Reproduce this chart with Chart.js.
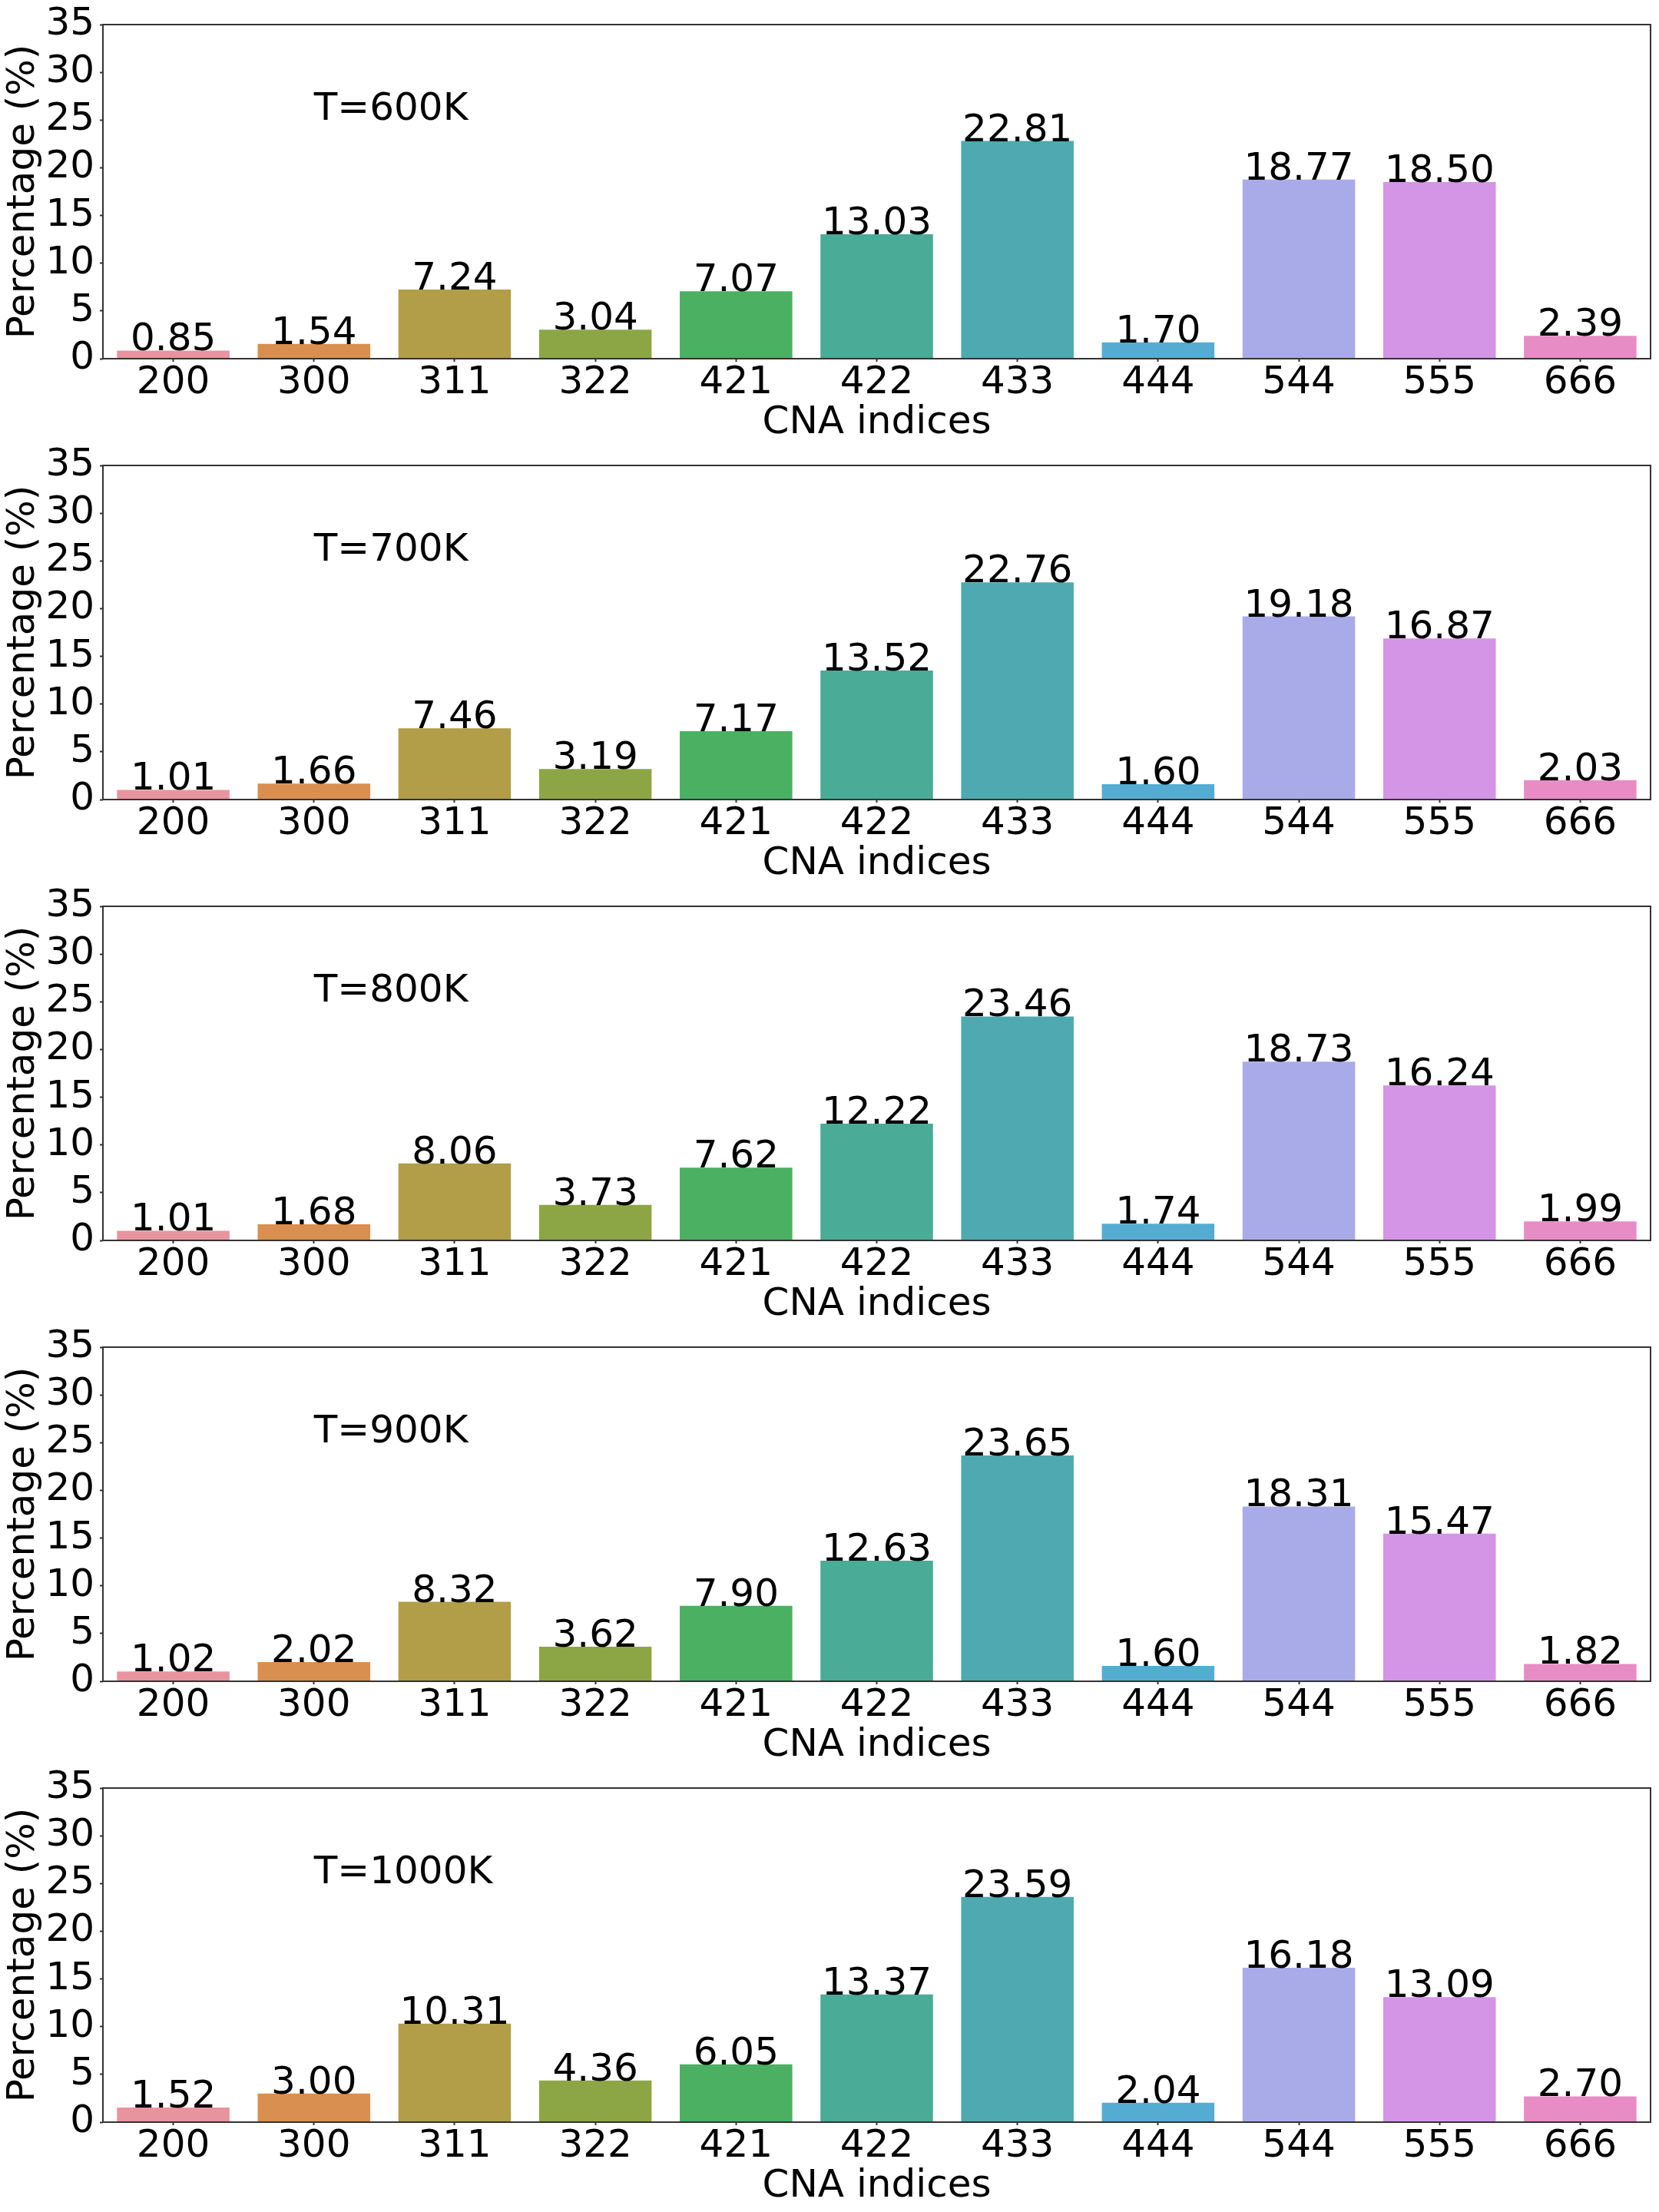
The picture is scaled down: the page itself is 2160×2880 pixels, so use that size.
<!DOCTYPE html>
<html>
<head>
<meta charset="utf-8">
<script src="https://cdn.jsdelivr.net/npm/chart.js@4.4.0/dist/chart.umd.min.js"></script>
<style>
  body { margin: 0; background: #fff; }
  #wrap { position: relative; width: 2160px; height: 2880px; }
  canvas { position: absolute; left: 0; }
</style>
</head>
<body>
<div id="wrap"></div>
<script>
// indices CNA (axe des x)
const categories = ['200', '300', '311', '322', '421', '422', '433', '444', '544', '555', '666'];

// une couleur par indice
const barColors = ['#e8949e', '#d98f4f', '#b29d48', '#8da645', '#4bb062', '#4aab97',
                   '#4eaab0', '#55acd2', '#a9abe9', '#d495e6', '#e88cc5'];

// pourcentages par température
const temperatures = ['T=600K', 'T=700K', 'T=800K', 'T=900K', 'T=1000K'];
const values600 = [0.85, 1.54, 7.24, 3.04, 7.07, 13.03, 22.81, 1.70, 18.77, 18.50, 2.39];
const values700 = [1.01, 1.66, 7.46, 3.19, 7.17, 13.52, 22.76, 1.60, 19.18, 16.87, 2.03];
const values800 = [1.01, 1.68, 8.06, 3.73, 7.62, 12.22, 23.46, 1.74, 18.73, 16.24, 1.99];
const values900 = [1.02, 2.02, 8.32, 3.62, 7.90, 12.63, 23.65, 1.60, 18.31, 15.47, 1.82];
const values1000 = [1.52, 3.00, 10.31, 4.36, 6.05, 13.37, 23.59, 2.04, 16.18, 13.09, 2.70];
const allValues = [values600, values700, values800, values900, values1000];

const yTicks = [0, 5, 10, 15, 20, 25, 30, 35];

Chart.defaults.font.family = "'DejaVu Sans', sans-serif";
Chart.defaults.font.size = 50;
Chart.defaults.color = '#000';

const panelStep = 574;
const wrap = document.getElementById('wrap');

// cadre, étiquettes des barres et texte de température
const extras = {
  id: 'extras',
  afterDatasetsDraw(chart, args, opts) {
    const ctx = chart.ctx;
    const area = chart.chartArea;
    const x = chart.scales.x;
    const y = chart.scales.y;
    const vals = chart.data.datasets[0].data;
    ctx.save();
    ctx.fillStyle = '#000';
    ctx.font = "50px 'DejaVu Sans'";
    ctx.textAlign = 'center';
    ctx.textBaseline = 'alphabetic';
    vals.forEach((v, i) => {
      ctx.fillText(v.toFixed(2), x.getPixelForValue(i), y.getPixelForValue(v));
    });
    ctx.textAlign = 'left';
    ctx.fillText(opts.label, x.getPixelForValue(1), y.getPixelForValue(25));
    ctx.strokeStyle = '#333';
    ctx.lineWidth = 2;
    ctx.strokeRect(area.left, area.top, area.right - area.left, area.bottom - area.top);
    ctx.restore();
  }
};

allValues.forEach((vals, p) => {
  const last = p === allValues.length - 1;
  const h = last ? 2880 - p * panelStep : panelStep;
  const canvas = document.createElement('canvas');
  canvas.width = 2160;
  canvas.height = h;
  canvas.style.width = '2160px';
  canvas.style.height = h + 'px';
  canvas.style.top = (p * panelStep) + 'px';
  wrap.appendChild(canvas);

  new Chart(canvas, {
    type: 'bar',
    data: {
      labels: categories,
      datasets: [{
        data: vals,
        backgroundColor: barColors,
        borderWidth: 0,
        barPercentage: 0.8,
        categoryPercentage: 1.0
      }]
    },
    options: {
      responsive: false,
      animation: false,
      devicePixelRatio: 1,
      layout: { padding: { left: 0, right: 11, top: 30, bottom: h - panelStep } },
      plugins: {
        legend: { display: false },
        tooltip: { enabled: false },
        extras: { label: temperatures[p] }
      },
      scales: {
        x: {
          grid: { offset: false, drawOnChartArea: false, drawTicks: true, tickLength: 4, tickColor: '#333', tickWidth: 2 },
          border: { display: false },
          ticks: { padding: 3, maxRotation: 0, autoSkip: false, font: { size: 50, lineHeight: 1 } },
          title: { display: true, text: 'CNA indices', font: { size: 50, lineHeight: 1 }, padding: { top: 0, bottom: -2 } },
          afterFit(scale) { scale.height = 107; }
        },
        y: {
          min: 0,
          max: 35,
          afterBuildTicks(scale) { scale.ticks = yTicks.map(v => ({ value: v })); },
          grid: { drawOnChartArea: false, drawTicks: true, tickLength: 4, tickColor: '#333', tickWidth: 2 },
          border: { display: false },
          ticks: { padding: 7, font: { size: 50, lineHeight: 1 } },
          title: { display: true, text: 'Percentage (%)', font: { size: 50, lineHeight: 1 }, padding: { top: 6, bottom: 0 } },
          afterFit(scale) { scale.width = 134; }
        }
      }
    },
    plugins: [extras]
  });
});
</script>
</body>
</html>
